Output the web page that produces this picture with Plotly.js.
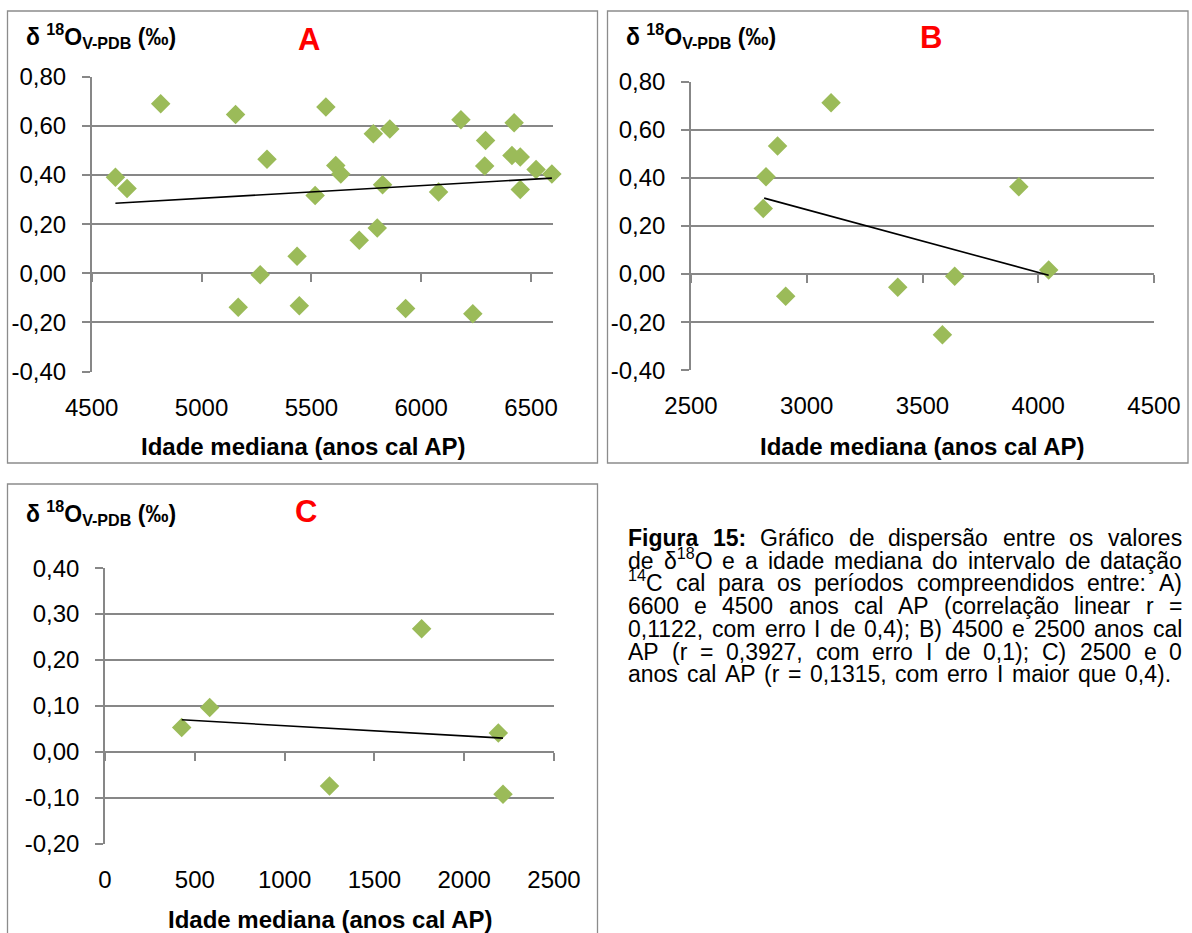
<!DOCTYPE html>
<html><head><meta charset="utf-8">
<script src="https://cdn.plot.ly/plotly-3.0.1.min.js"></script>
<style>html,body{margin:0;padding:0;background:#fff}#chart{width:1192px;height:933px}</style>
</head><body><div id="chart"></div>
<script>
// ---------- DATA ----------
const ageA  = [4608,4661,4814,5155,5167,5267,5298,5435,5445,5517,5566,5611,5634,5718,5782,5800,5824,5857,5929,6079,6181,6235,6293,6289,6413,6423,6451,6451,6523,6595];
const d18OA = [0.391,0.345,0.690,0.646,-0.138,-0.006,0.464,0.069,-0.132,0.316,0.676,0.438,0.404,0.134,0.568,0.184,0.360,0.587,-0.143,0.331,0.625,-0.165,0.540,0.436,0.479,0.612,0.473,0.341,0.422,0.404];
const trendAx = [4608,6595];
const trendAy = [0.285,0.387];

const ageB  = [2812,2824,2874,2909,3105,3393,3586,3639,3916,4045];
const d18OB = [0.273,0.405,0.533,-0.092,0.713,-0.055,-0.253,-0.009,0.363,0.017];
const trendBx = [2816,4045];
const trendBy = [0.316,-0.005];

const ageC  = [427,583,1250,1763,2190,2216];
const d18OC = [0.053,0.097,-0.074,0.268,0.041,-0.092];
const trendCx = [427,2216];
const trendCy = [0.070,0.030];

const xTicksA = [4500,5000,5500,6000,6500];
const xTicksB = [2500,3000,3500,4000,4500];
const xTicksC = [0,500,1000,1500,2000,2500];
const yTicksAB = [-0.4,-0.2,0,0.2,0.4,0.6,0.8];
const yTextAB  = ['-0,40','-0,20','0,00','0,20','0,40','0,60','0,80'];
const yTicksC  = [-0.2,-0.1,0,0.1,0.2,0.3,0.4];
const yTextC   = ['-0,20','-0,10','0,00','0,10','0,20','0,30','0,40'];

const panelLetters = ['A','B','C'];
const yTitle = '<b>δ <sup>18</sup>O<sub>V-PDB</sub> (‰)</b>';
const xTitle = '<b>Idade mediana (anos cal AP)</b>';
const captionLines = [
  '<b>Figura</b> <b>15:</b> Gráfico de dispersão entre os valores',
  'de δ<sup>18</sup>O e a idade mediana do intervalo de datação',
  '<sup>14</sup>C cal para os períodos compreendidos entre: A)',
  '6600 e 4500 anos cal AP (correlação linear r =',
  '0,1122, com erro I de 0,4); B) 4500 e 2500 anos cal',
  'AP (r = 0,3927, com erro I de 0,1); C) 2500 e 0',
  'anos cal AP (r = 0,1315, com erro I maior que 0,4).'
];

// ---------- LAYOUT HELPERS ----------
const W = 1192, H = 933;
const fx = p => p / W;
const fy = p => 1 - p / H;
const GRID = '#878787';
const FONT = 'Liberation Sans, Arial, sans-serif';
const GREEN = '#9BBB59';

const panels = [
  {ax:'', x:ageA, y:d18OA, tx:trendAx, ty:trendAy, xd:[91.7,553], yd:[76.5,371.7], xr:[4500,6600], yr:[-0.4,0.8], xt:xTicksA, yt:yTicksAB, ytt:yTextAB,
   box:[7.5,11,597.5,463], letter:[309,39], ytitle:[25,36], xtitle:[303,446]},
  {ax:'2', x:ageB, y:d18OB, tx:trendBx, ty:trendBy, xd:[691,1154], yd:[81.7,370.3], xr:[2500,4500], yr:[-0.4,0.8], xt:xTicksB, yt:yTicksAB, ytt:yTextAB,
   box:[607.5,11,1188,463], letter:[931,37], ytitle:[625,36], xtitle:[922,446]},
  {ax:'3', x:ageC, y:d18OC, tx:trendCx, ty:trendCy, xd:[105,554], yd:[568,844], xr:[0,2500], yr:[-0.2,0.4], xt:xTicksC, yt:yTicksC, ytt:yTextC,
   box:[7.5,484,597.5,945], letter:[306,511], ytitle:[25,513], xtitle:[330,919]}
];

const data = [];
const layout = {
  width: W, height: H, margin:{l:0,r:0,t:0,b:0},
  paper_bgcolor:'#fff', plot_bgcolor:'rgba(0,0,0,0)',
  showlegend:false, font:{family:FONT, color:'#000'},
  annotations:[], shapes:[]
};

panels.forEach((p, i) => {
  const xa = 'x' + p.ax, ya = 'y' + p.ax;
  const tickAxisNum = 4 + i;
  data.push({type:'scatter', mode:'markers', x:p.x, y:p.y, xaxis:xa, yaxis:ya, cliponaxis:false,
    marker:{symbol:'diamond', size:15, color:GREEN, line:{width:0}}, hoverinfo:'x+y'});
  data.push({type:'scatter', mode:'lines', x:p.tx, y:p.ty, xaxis:xa, yaxis:ya, cliponaxis:false,
    line:{color:'#000', width:1.6}, hoverinfo:'skip'});
  data.push({type:'scatter', mode:'markers', x:[p.xt[0]], y:[p.yt[0]], xaxis:'x'+tickAxisNum, yaxis:ya,
    marker:{opacity:0}, hoverinfo:'skip'});

  const pad = (p.yr[1]-p.yr[0])*0.0004;
  layout['xaxis' + p.ax] = {
    domain:[fx(p.xd[0]), fx(p.xd[1])], anchor:ya, range:p.xr,
    tickmode:'array', tickvals:p.xt, ticktext:p.xt.map(String),
    ticks:'', showgrid:false, zeroline:false, showline:false,
    tickfont:{family:FONT, size:24, color:'#000'}, ticklabelstandoff:19
  };
  layout['yaxis' + p.ax] = {
    domain:[fy(p.yd[1]), fy(p.yd[0])], anchor:xa, range:[p.yr[0]-pad, p.yr[1]+pad],
    tickmode:'array', tickvals:p.yt, ticktext:p.ytt,
    ticks:'outside', ticklen:8, tickwidth:1.6, tickcolor:GRID,
    showline:true, linecolor:GRID, linewidth:1.6,
    showgrid:true, gridcolor:GRID, gridwidth:1.7, zeroline:false,
    tickfont:{family:FONT, size:24, color:'#000'}, ticklabelstandoff:11
  };
  const zeroPx = p.yd[0] + (p.yr[1]-0)/(p.yr[1]-p.yr[0])*(p.yd[1]-p.yd[0]);
  layout['xaxis' + tickAxisNum] = {
    overlaying:xa, anchor:'free', position:fy(zeroPx), side:'bottom', range:p.xr,
    tickmode:'array', tickvals:p.xt, ticks:'outside', ticklen:8, tickwidth:1.6, tickcolor:GRID,
    showticklabels:false, showgrid:false, zeroline:false, showline:false
  };

  layout.shapes.push({type:'rect', xref:'paper', yref:'paper',
    x0:fx(p.box[0]), x1:fx(p.box[2]), y0:fy(p.box[3]), y1:fy(p.box[1]),
    line:{color:'#8c8c8c', width:1.3}, fillcolor:'rgba(0,0,0,0)', layer:'below'});

  layout.annotations.push({xref:'paper', yref:'paper', x:fx(p.ytitle[0]), y:fy(p.ytitle[1]),
    xanchor:'left', yanchor:'middle', showarrow:false, text:yTitle, borderpad:0,
    font:{family:FONT, size:23, color:'#000'}});
  layout.annotations.push({xref:'paper', yref:'paper', x:fx(p.letter[0]), y:fy(p.letter[1]),
    xanchor:'center', yanchor:'middle', showarrow:false, text:'<b>'+panelLetters[i]+'</b>', borderpad:0,
    font:{family:FONT, size:31, color:'#FF0000'}});
  layout.annotations.push({xref:'paper', yref:'paper', x:fx(p.xtitle[0]), y:fy(p.xtitle[1]),
    xanchor:'center', yanchor:'middle', showarrow:false, text:xTitle, borderpad:0,
    font:{family:FONT, size:24, color:'#000'}});
});

// ---------- CAPTION (justified, word by word) ----------
const CAP_SIZE = 23, CAP_L = 627, CAP_R = 1181, CAP_R_LAST = 1170, CAP_BASE0 = 547, CAP_LH = 22.7;
const ctx = document.createElement('canvas').getContext('2d');
function measure(tok){
  const bold = /<b>/.test(tok);
  const parts = tok.replace(/<\/?b>/g,'').split(/(<sup>.*?<\/sup>)/).filter(s => s);
  let w = 0;
  parts.forEach(s => {
    const sup = s.startsWith('<sup>');
    ctx.font = (bold ? 'bold ' : '') + (sup ? CAP_SIZE*0.7 : CAP_SIZE) + 'px "Liberation Sans"';
    w += ctx.measureText(s.replace(/<\/?sup>/g,'')).width;
  });
  return w;
}
captionLines.forEach((line, li) => {
  const words = line.split(' ');
  const widths = words.map(measure);
  const total = widths.reduce((a,b)=>a+b,0);
  const right = li === captionLines.length-1 ? CAP_R_LAST : CAP_R;
  const gap = (right - CAP_L - total) / (words.length - 1);
  let x = CAP_L;
  const base = CAP_BASE0 + li*CAP_LH;
  words.forEach((w, wi) => {
    layout.annotations.push({xref:'paper', yref:'paper', x:fx(x), y:fy(base + 5),
      xanchor:'left', yanchor:'bottom', showarrow:false, text:w, borderpad:0,
      font:{family:FONT, size:CAP_SIZE, color:'#000'}});
    x += widths[wi] + gap;
  });
});

Plotly.newPlot('chart', data, layout, {displayModeBar:false, responsive:false});
</script>
</body></html>
